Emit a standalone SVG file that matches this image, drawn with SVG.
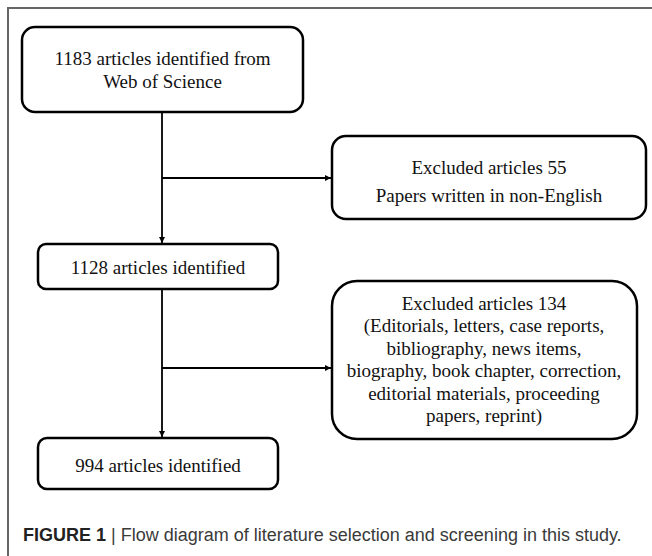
<svg xmlns="http://www.w3.org/2000/svg" width="652" height="556" viewBox="0 0 652 556">
  <style>
    .box { fill: #ffffff; stroke: #000000; stroke-width: 2.5; }
    .t { font-family: "Liberation Serif", "Times New Roman", serif; font-size: 19px; fill: #111111; text-anchor: middle; }
    .conn { stroke: #000000; stroke-width: 1.8; fill: none; }
    .cap { font-family: "Liberation Sans", Arial, sans-serif; font-size: 18px; fill: #3a3a3a; }
    .capb { font-weight: bold; fill: #222222; }
  </style>
  <defs>
    <marker id="arr" viewBox="0 0 10 10" refX="10" refY="5" markerWidth="6" markerHeight="6" markerUnits="userSpaceOnUse" orient="auto">
      <path d="M0,0 L10,5 L0,10 Z" fill="#000000"/>
    </marker>
  </defs>
  <rect x="0" y="0" width="652" height="556" fill="#ffffff"/>
  <g id="frame">
    <path d="M8,556 L8,8 L652,8" fill="none" stroke="#666666" stroke-width="2"/>
  </g>
  <g id="connectors">
    <line class="conn" x1="162" y1="112" x2="162" y2="243" marker-end="url(#arr)"/>
    <line class="conn" x1="162" y1="178" x2="331" y2="178" marker-end="url(#arr)"/>
    <line class="conn" x1="162" y1="289" x2="162" y2="437" marker-end="url(#arr)"/>
    <line class="conn" x1="162" y1="368" x2="331" y2="368" marker-end="url(#arr)"/>
  </g>
  <g id="node-1183">
    <rect class="box" x="22" y="27" width="281" height="85" rx="13" ry="13"/>
    <text class="t" x="162.5" y="65">1183 articles identified from</text>
    <text class="t" x="162.5" y="88">Web of Science</text>
  </g>
  <g id="node-excluded-55">
    <rect class="box" x="332" y="136" width="314" height="83" rx="14" ry="14"/>
    <text class="t" x="489" y="174">Excluded articles 55</text>
    <text class="t" x="489" y="202">Papers written in non-English</text>
  </g>
  <g id="node-1128">
    <rect class="box" x="38" y="244" width="240" height="45" rx="8" ry="8"/>
    <text class="t" x="158" y="274">1128 articles identified</text>
  </g>
  <g id="node-excluded-134">
    <rect class="box" x="332" y="281" width="305" height="158" rx="25" ry="25"/>
    <text class="t" x="484" y="310">Excluded articles 134</text>
    <text class="t" x="484" y="332.4">(Editorials, letters, case reports,</text>
    <text class="t" x="484" y="354.8">bibliography, news items,</text>
    <text class="t" x="484" y="377.2">biography, book chapter, correction,</text>
    <text class="t" x="484" y="399.6">editorial materials, proceeding</text>
    <text class="t" x="484" y="422">papers, reprint)</text>
  </g>
  <g id="node-994">
    <rect class="box" x="38" y="438" width="240" height="51" rx="9" ry="9"/>
    <text class="t" x="158" y="472">994 articles identified</text>
  </g>
  <g id="caption">
    <text class="cap" x="23" y="541"><tspan class="capb">FIGURE 1</tspan> | Flow diagram of literature selection and screening in this study.</text>
  </g>
</svg>
